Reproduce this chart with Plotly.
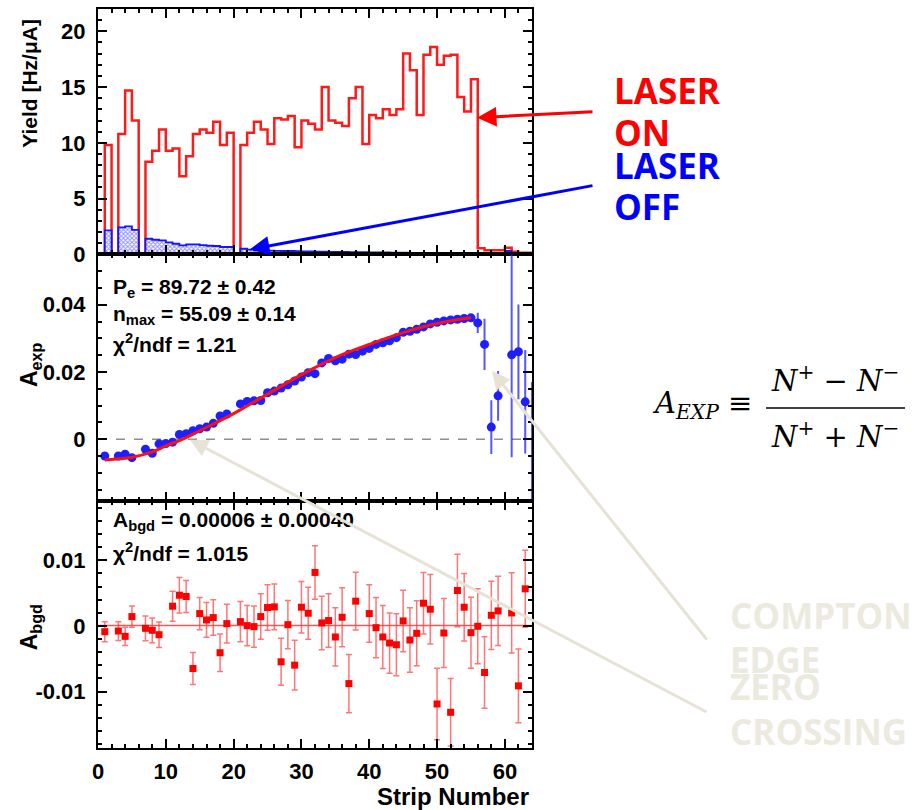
import plotly.graph_objects as go

# ---------------- data ----------------
# Yield per strip, bin [s, s+1] for s = 0..63  (Hz/uA)
yield_laser_on = [
    0.0, 9.8, 0.0, 10.8, 14.7, 12.0, 0.0, 8.3, 9.3, 11.2,          # 0-9
    9.3, 9.5, 7.0, 8.8, 10.8, 11.2, 10.9, 11.9, 9.8, 10.9,         # 10-19
    0.0, 9.8, 10.9, 11.9, 11.2, 9.9, 12.2, 12.1, 12.4, 9.6,        # 20-29
    12.0, 11.7, 11.2, 15.0, 12.0, 11.8, 11.5, 14.0, 15.0, 9.9,     # 30-39
    12.5, 12.2, 13.0, 12.5, 13.0, 18.0, 16.5, 12.5, 17.9, 18.6,    # 40-49
    17.0, 17.8, 17.9, 14.1, 12.8, 15.7, 0.54, 0.36, 0.36, 0.36,    # 50-59
    0.6, 0.24, 0.15, 0.15,                                         # 60-63
]
yield_laser_off = [
    0.0, 2.15, 0.0, 2.42, 2.5, 2.2, 0.0, 1.4, 1.31, 1.25,
    1.07, 0.95, 0.8, 0.89, 0.89, 0.83, 0.77, 0.75, 0.66, 0.66,
    0.0, 0.5, 0.42, 0.36, 0.36, 0.33, 0.31, 0.3, 0.3, 0.28,
    0.27, 0.26, 0.25, 0.24, 0.23, 0.22, 0.21, 0.2, 0.2, 0.19,
    0.18, 0.17, 0.17, 0.16, 0.15, 0.15, 0.14, 0.14, 0.13, 0.13,
    0.12, 0.12, 0.11, 0.11, 0.1, 0.1, 0.1, 0.08, 0.08, 0.08,
    0.3, 0.06, 0.05, 0.05,
]
bin_edges = list(range(0, 65))

# Experimental asymmetry per strip
aexp_strip = [1, 3, 4, 5, 7, 8, 9, 10, 11, 12, 13, 14, 15, 16, 17, 18, 19,
              21, 22, 23, 24, 25, 26, 27, 28, 29, 30, 31, 32, 33, 34, 35, 36,
              37, 38, 39, 40, 41, 42, 43, 44, 45, 46, 47, 48, 49, 50, 51, 52,
              53, 54, 55, 56, 57, 58, 59, 61, 62, 63, 64]
aexp_val = [-0.0050, -0.0050, -0.0045, -0.0055, -0.0030, -0.0042, -0.0014,
            -0.0013, -0.0009, 0.0014, 0.0016, 0.0025, 0.0031, 0.0036, 0.0047,
            0.0069, 0.0075,
            0.0105, 0.0112, 0.0114, 0.0115, 0.0138, 0.0143, 0.0152, 0.0162,
            0.0173, 0.0185, 0.0198, 0.0195, 0.0227, 0.0240, 0.0233, 0.0238,
            0.0253, 0.0252, 0.0262, 0.0270, 0.0282, 0.0287, 0.0293, 0.0302,
            0.0318, 0.0321, 0.0327, 0.0334, 0.0343, 0.0348, 0.0352, 0.0355,
            0.0357, 0.0359, 0.0361, 0.0346, 0.0282, 0.0036, 0.0129, 0.0251,
            0.0260, 0.0111, -0.0300]
aexp_err = [0.0006] * 52 + [0.0030, 0.0076, 0.0080, 0.0074, 0.0305,
                            0.0141, 0.0154, 0.0470]

# Fitted Compton asymmetry curve (sampled)
fit_strip = [1, 5, 8, 10, 12.5, 15, 20, 25, 30, 35, 40, 45, 50, 55]
fit_val = [-0.0062, -0.0054, -0.0038, -0.0020, 0.0000, 0.0025, 0.0076,
           0.0134, 0.0192, 0.0243, 0.0282, 0.0317, 0.0344, 0.0361]

# Background asymmetry per strip
abgd_strip = [1, 3, 4, 5, 7, 8, 9, 11, 12, 13, 14, 15, 16, 17, 18, 19, 21,
              22, 23, 24, 25, 26, 27, 28, 29, 30, 31, 32, 33, 34, 35, 36, 37,
              38, 40, 41, 42, 43, 44, 45, 46, 47, 48, 49, 50, 51, 52, 53, 54,
              55, 56, 57, 58, 59, 61, 62, 63]
abgd_val = [-0.00087, -0.00077, -0.00158, 0.00143, -0.00036, -0.00066,
            -0.00133, 0.00301, 0.00469, 0.00449, -0.00648, 0.00189, 0.00092,
            0.00128, -0.00408, 0.00036, 0.00066, 0.00005, -0.00010, 0.00143,
            0.00281, 0.00291, -0.00546, 0.00020, -0.00597, 0.00286, 0.00194,
            0.00816, 0.00046, 0.00082, -0.00168, 0.00133, -0.00878, 0.00378,
            0.00189, -0.00026, -0.00168, -0.00260, -0.00286, 0.00077,
            -0.00214, -0.00112, 0.00347, 0.00255, -0.01189, -0.00107,
            -0.01316, 0.00541, 0.00286, -0.00102, -0.00005, -0.00709,
            0.00163, 0.00230, 0.00199, -0.00913, 0.00566]
abgd_err = [0.00153, 0.00143, 0.00138, 0.00163, 0.00189, 0.00189, 0.00194,
            0.00230, 0.00270, 0.00245, 0.00245, 0.00245, 0.00265, 0.00270,
            0.00286, 0.00296, 0.00306, 0.00306, 0.00316, 0.00347, 0.00347,
            0.00347, 0.00357, 0.00367, 0.00378, 0.00393, 0.00398, 0.00408,
            0.00408, 0.00408, 0.00444, 0.00449, 0.00444, 0.00439, 0.00439,
            0.00459, 0.00480, 0.00459, 0.00474, 0.00469, 0.00490, 0.00495,
            0.00469, 0.00530, 0.00546, 0.00526, 0.00515, 0.00551, 0.00515,
            0.00541, 0.00571, 0.00546, 0.00520, 0.00526, 0.00612, 0.00561,
            0.00587]
abgd_fit = 0.00006

x_range = [0, 64]

# ---------------- figure ----------------
W, H = 915, 810
ML, MR, MT, MB = 98, 383, 7, 62
PW, PH = W - ML - MR, H - MT - MB


def px(xp):
    return (xp - ML) / PW


def py(yp):
    return (H - MB - yp) / PH


fig = go.Figure()

# Top panel: yields
fig.add_trace(go.Scatter(
    x=bin_edges, y=yield_laser_on + [yield_laser_on[-1]],
    mode="lines", line=dict(shape="hv", color="#ff1a1a", width=2.5),
    xaxis="x", yaxis="y", showlegend=False))
fig.add_trace(go.Scatter(
    x=bin_edges, y=yield_laser_off + [yield_laser_off[-1]],
    mode="lines", line=dict(shape="hv", color="#1414ff", width=1.8),
    fill="tozeroy",
    fillpattern=dict(shape="x", fgcolor="#1e1eff", bgcolor="white",
                     size=3, solidity=0.55),
    xaxis="x", yaxis="y", showlegend=False))

# Middle panel: measured asymmetry with fit
fig.add_trace(go.Scatter(
    x=x_range, y=[0, 0], mode="lines",
    line=dict(color="#555555", width=1, dash="dash"),
    xaxis="x2", yaxis="y2", showlegend=False))
fig.add_trace(go.Scatter(
    x=aexp_strip, y=aexp_val, mode="markers",
    marker=dict(symbol="circle", size=9, color="#1e1eff"),
    error_y=dict(type="data", array=aexp_err, color="rgba(30,30,255,0.75)",
                 thickness=2, width=0),
    xaxis="x2", yaxis="y2", showlegend=False))
fig.add_trace(go.Scatter(
    x=fit_strip, y=fit_val, mode="lines",
    line=dict(color="#ff1010", width=3, shape="spline", smoothing=1.0),
    xaxis="x2", yaxis="y2", showlegend=False))

# Bottom panel: background asymmetry
fig.add_trace(go.Scatter(
    x=x_range, y=[abgd_fit, abgd_fit], mode="lines",
    line=dict(color="rgba(255,40,40,0.8)", width=1.5),
    xaxis="x3", yaxis="y3", showlegend=False))
fig.add_trace(go.Scatter(
    x=abgd_strip, y=abgd_val, mode="markers",
    marker=dict(symbol="square", size=7, color="#ff0000"),
    error_y=dict(type="data", array=abgd_err, color="rgba(255,60,60,0.7)",
                 thickness=1.5, width=3),
    xaxis="x3", yaxis="y3", showlegend=False))

tick_font = dict(family="Liberation Sans", size=22, color="black",
                 weight="bold")
frame = dict(showline=True, linecolor="black", linewidth=2, mirror="allticks",
             ticks="inside", tickcolor="black", tickwidth=1.5, ticklen=9,
             showgrid=False, zeroline=False)

xcommon = dict(frame, range=x_range, tickmode="linear", tick0=0, dtick=10,
               minor=dict(ticks="inside", tickmode="linear", tick0=0, dtick=2,
                          ticklen=4, tickwidth=1.5, tickcolor="black"))

d1, d2 = 0.3347, 0.668
fig.update_layout(
    width=W, height=H,
    margin=dict(l=ML, r=MR, t=MT, b=MB),
    paper_bgcolor="white", plot_bgcolor="white",
    xaxis=dict(xcommon, anchor="y", showticklabels=False, matches="x3"),
    xaxis2=dict(xcommon, anchor="y2", showticklabels=False, matches="x3"),
    xaxis3=dict(xcommon, anchor="y3", tickfont=tick_font,
                ticklabelstandoff=3),
    yaxis=dict(frame, domain=[d2, 1], range=[0, 22], anchor="x",
               tickmode="array", tickvals=[0, 5, 10, 15, 20],
               ticktext=["0", "5", "10", "15", "20"], tickfont=tick_font,
               ticklabelstandoff=6,
               minor=dict(ticks="inside", tickmode="linear", tick0=0,
                          dtick=1, ticklen=4, tickwidth=1.5,
                          tickcolor="black")),
    yaxis2=dict(frame, domain=[d1, d2], range=[-0.0183, 0.055], anchor="x2",
                tickmode="array", tickvals=[0, 0.02, 0.04],
                ticktext=["0", "0.02", "0.04"], tickfont=tick_font,
                ticklabelstandoff=6,
                minor=dict(ticks="inside", tickmode="linear", tick0=0,
                           dtick=0.005, ticklen=4, tickwidth=1.5,
                           tickcolor="black")),
    yaxis3=dict(frame, domain=[0, d1], range=[-0.0186, 0.0191], anchor="x3",
                tickmode="array", tickvals=[-0.01, 0, 0.01],
                ticktext=["-0.01", "0", "0.01"], tickfont=tick_font,
                ticklabelstandoff=6,
                minor=dict(ticks="inside", tickmode="linear", tick0=0,
                           dtick=0.002, ticklen=4, tickwidth=1.5,
                           tickcolor="black")),
)

root_font = dict(family="Liberation Sans", size=21, color="black",
                 weight="bold")
title_font = dict(family="Liberation Sans", size=21, color="black",
                  weight="bold")
slide_font = dict(family="Open Sans", size=35, weight="bold")
beige = "#ECEADF"

annotations = []


def label(text, x, y, font, xanchor="left", yanchor="middle", angle=0):
    annotations.append(dict(text=text, x=px(x), y=py(y), xref="paper",
                            yref="paper", xanchor=xanchor, yanchor=yanchor,
                            showarrow=False, font=font, textangle=angle))


# axis titles
label("Yield [Hz/μA]", 30, 82, title_font, xanchor="center", angle=-90)
label("A<sub>exp</sub>", 30, 364, dict(title_font, size=23),
      xanchor="center", angle=-90)
label("A<sub>bgd</sub>", 30, 627, dict(title_font, size=23),
      xanchor="center", angle=-90)
label("Strip Number", 531, 797, dict(title_font, size=24), xanchor="right")

# fit results
label("P<sub>e</sub> = 89.72 ± 0.42", 111, 287, root_font)
label("n<sub>max</sub> = 55.09 ± 0.14", 111, 314, root_font)
label("χ<sup>2</sup>/ndf = 1.21", 111, 342, root_font)
label("A<sub>bgd</sub> = 0.00006 ± 0.00040", 111, 520, root_font)
label("χ<sup>2</sup>/ndf = 1.015", 111, 551, root_font)

# slide labels
label("LASER", 612, 89, dict(slide_font, color="#ff0000"))
label("ON", 612, 131, dict(slide_font, color="#ff0000"))
label("LASER", 612, 164, dict(slide_font, color="#0000ff"))
label("OFF", 612, 205, dict(slide_font, color="#0000ff"))
label("COMPTON", 728, 615, dict(slide_font, color=beige))
label("EDGE", 728, 659, dict(slide_font, color=beige))
label("ZERO", 728, 686, dict(slide_font, color=beige))
label("CROSSING", 728, 731, dict(slide_font, color=beige))

# definition of the experimental asymmetry
math_font = dict(family="DejaVu Serif", size=29, color="black", style="italic")
label("A<sub>EXP</sub> ≡", 754, 404, math_font, xanchor="right")
label("N<sup>+</sup> − N<sup>−</sup>", 835, 378, math_font, xanchor="center")
label("N<sup>+</sup> + N<sup>−</sup>", 835, 434, math_font, xanchor="center")


def arrow(head, tail, color, width, size):
    annotations.append(dict(text="", x=px(head[0]), y=py(head[1]),
                            xref="paper", yref="paper", showarrow=True,
                            ax=tail[0] - head[0], ay=tail[1] - head[1],
                            arrowhead=2, arrowsize=size, arrowwidth=width,
                            arrowcolor=color, standoff=0))


arrow((477, 116), (594, 110), "#ff0000", 3, 1.3)
arrow((250, 248), (594, 184), "#0000ff", 3, 1.3)
arrow((492, 370), (708, 640), "#E6E3D5", 3, 1.2)
arrow((190, 439), (708, 712), "#E6E3D5", 3, 1.2)

fig.update_layout(
    annotations=annotations,
    shapes=[dict(type="line", xref="paper", yref="paper",
                 x0=px(766), x1=px(905), y0=py(407), y1=py(407),
                 line=dict(color="black", width=1.5))],
)

fig.write_html("out.html")
